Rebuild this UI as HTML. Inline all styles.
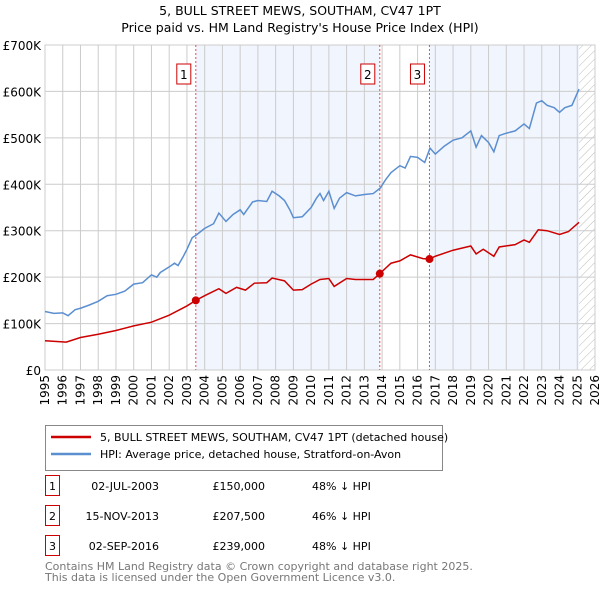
<!DOCTYPE html>
<html><head><meta charset="utf-8"><style>
body{margin:0;background:#fff;font-family:"Liberation Sans","DejaVu Sans",sans-serif;}
svg text{font-family:"DejaVu Sans","Liberation Sans",sans-serif;}
</style></head><body>
<svg id="c" width="600" height="590" viewBox="0 0 600 590" xmlns="http://www.w3.org/2000/svg">
<defs><pattern id="h" width="6" height="6" patternUnits="userSpaceOnUse" patternTransform="rotate(45)"><line x1="0" y1="0" x2="0" y2="6" stroke="#bbb" stroke-width="1"/></pattern></defs>
<text x="300" y="15" text-anchor="middle" font-size="12.5">5, BULL STREET MEWS, SOUTHAM, CV47 1PT</text>
<text x="300" y="32" text-anchor="middle" font-size="12.5">Price paid vs. HM Land Registry's House Price Index (HPI)</text>
<g id="plot"></g>
<g>
<rect x="45.5" y="425.5" width="397" height="45" fill="#fff" stroke="#888"/>
<line x1="51" y1="437" x2="91" y2="437" stroke="#cc0000" stroke-width="2.5"/>
<text x="100" y="441" font-size="11">5, BULL STREET MEWS, SOUTHAM, CV47 1PT (detached house)</text>
<line x1="51" y1="454" x2="91" y2="454" stroke="#5b8fd0" stroke-width="2.5"/>
<text x="100" y="458" font-size="11">HPI: Average price, detached house, Stratford-on-Avon</text>
</g>
<g id="table" font-size="11"></g>
<text x="45" y="570" font-size="11" fill="#777">Contains HM Land Registry data © Crown copyright and database right 2025.</text>
<text x="45" y="581" font-size="11" fill="#777">This data is licensed under the Open Government Licence v3.0.</text>
</svg>
<script>
const hpiYears=[1995,1995.5,1996,1996.3,1996.7,1997,1997.5,1998,1998.5,1999,1999.5,2000,2000.5,2001,2001.3,2001.5,2002,2002.3,2002.5,2002.8,2003,2003.3,2003.5,2004,2004.5,2004.8,2005.2,2005.6,2006,2006.2,2006.7,2007,2007.5,2007.8,2008.2,2008.5,2008.8,2009,2009.5,2010,2010.3,2010.5,2010.7,2011,2011.3,2011.6,2012,2012.5,2013,2013.5,2013.9,2014.2,2014.5,2015,2015.3,2015.6,2016,2016.4,2016.7,2017,2017.5,2018,2018.5,2019,2019.3,2019.6,2020,2020.3,2020.6,2021,2021.5,2022,2022.3,2022.7,2023,2023.3,2023.7,2024,2024.3,2024.7,2025.1];
const hpiValues=[126,122,123,117,130,133,140,148,160,163,170,185,188,205,200,210,222,230,225,245,260,285,290,305,315,338,320,335,345,335,362,365,363,385,375,365,345,328,330,350,370,380,365,385,348,370,382,375,378,380,392,410,425,440,435,460,458,447,478,465,482,495,500,515,480,505,490,470,505,510,515,530,520,575,580,570,565,555,565,570,605];
const ppYears=[1995,1996.2,1997,1998,1999,2000,2001,2002,2003,2003.5,2004,2004.8,2005.2,2005.8,2006.3,2006.8,2007.5,2007.8,2008.5,2009,2009.5,2010,2010.5,2011,2011.3,2012,2012.5,2013.5,2013.87,2014.5,2015,2015.6,2016.3,2016.67,2017,2018,2019,2019.3,2019.7,2020.3,2020.6,2021.5,2022,2022.3,2022.8,2023.3,2024,2024.5,2025.1];
const ppValues=[63,60,70,77,85,95,103,118,138,150,160,175,165,178,172,187,188,198,192,172,173,185,195,197,180,197,195,195,207.5,230,235,248,240,239,245,258,267,250,260,245,265,270,280,275,302,300,292,298,318];
const saleLabels=["1","2","3"];
const saleYears=[2003.5,2013.87,2016.67];
const saleValues=[150,207.5,239];
const saleDates=["02-JUL-2003","15-NOV-2013","02-SEP-2016"];
const salePrices=["£150,000","£207,500","£239,000"];
const saleDiffs=["48% ↓ HPI","46% ↓ HPI","48% ↓ HPI"];
const yTicks=[0,100,200,300,400,500,600,700];
const yTickLabels=["£0","£100K","£200K","£300K","£400K","£500K","£600K","£700K"];
const xTicks=[1995,1996,1997,1998,1999,2000,2001,2002,2003,2004,2005,2006,2007,2008,2009,2010,2011,2012,2013,2014,2015,2016,2017,2018,2019,2020,2021,2022,2023,2024,2025,2026];

const L=45,R=595,T=45,B=370;
const X=y=>L+(y-1995)/(2026-1995)*(R-L);
const Y=v=>B-v/700*(B-T);
const NS="http://www.w3.org/2000/svg";
const plot=document.getElementById('plot');
function mk(tag,a,parent){const e=document.createElementNS(NS,tag);for(const k in a)e.setAttribute(k,a[k]);(parent||plot).appendChild(e);return e;}

let e;
e=mk('rect',{x:X(saleYears[0]),y:T,width:X(saleYears[1])-X(saleYears[0]),height:B-T,fill:'#eef3fc',opacity:0.8});


e=mk('rect',{x:X(saleYears[2]),y:T,width:X(2025.1)-X(saleYears[2]),height:B-T,fill:'#eef3fc',opacity:0.8});


e=mk('rect',{x:X(2025.1),y:T,width:R-X(2025.1),height:B-T,fill:'url(#h)'});



yTicks.forEach((v,i)=>{
 e=mk('line',{x1:L,x2:R,y1:Y(v),y2:Y(v),stroke:'#ccc','stroke-width':1});
 
 
 e=mk('text',{x:L-4,y:Y(v)+5,'text-anchor':'end','font-size':12});
 e.textContent=yTickLabels[i];
 
 
});
xTicks.forEach(t=>{
 e=mk('line',{x1:X(t),x2:X(t),y1:T,y2:B,stroke:'#ccc','stroke-width':1});
 
 
 e=mk('text',{x:0,y:0,'text-anchor':'end','font-size':12,transform:`translate(${X(t)+4},${B+5}) rotate(-90)`});
 e.textContent=t;
 
 
});
e=mk('rect',{x:L,y:T,width:R-L,height:B-T,fill:'none',stroke:'#ccc'});



saleYears.forEach((s,i)=>{
 e=mk('line',{x1:X(s),x2:X(s),y1:T,y2:B,stroke:'#e05050','stroke-dasharray':'2,2','stroke-width':1});
 
 
 e=mk('rect',{x:X(s)-19,y:64,width:14,height:20,fill:'#fff',stroke:'#cc0000'});
 
 
 e=mk('text',{x:X(s)-12,y:79,'text-anchor':'middle','font-size':12});
 e.textContent=saleLabels[i];
 
 
});

e=mk('polyline',{points:hpiYears.map((y,i)=>X(y)+','+Y(hpiValues[i])).join(' '),fill:'none',stroke:'#5b8fd0','stroke-width':1.5});


e=mk('polyline',{points:ppYears.map((y,i)=>X(y)+','+Y(ppValues[i])).join(' '),fill:'none',stroke:'#cc0000','stroke-width':1.5});


saleYears.forEach((s,i)=>{
 e=mk('circle',{cx:X(s),cy:Y(saleValues[i]),r:4,fill:'#cc0000'});
 
 
});

const tb=document.getElementById('table');
saleLabels.forEach((l,i)=>{
 const y=484+i*30;
 e=mk('rect',{x:45.5,y:y-8.5,width:14,height:20,fill:'#fff',stroke:'#cc0000'},tb);
 
 
 const cols=[[52.5,l,'middle'],[159,saleDates[i],'end'],[265,salePrices[i],'end'],[312,saleDiffs[i],'start']];
 cols.forEach(([x,t,a],j)=>{
  e=mk('text',{x:x,y:y+6,'text-anchor':a},tb);
  e.textContent=t;
  
  
 });
});
</script>
</body></html>
